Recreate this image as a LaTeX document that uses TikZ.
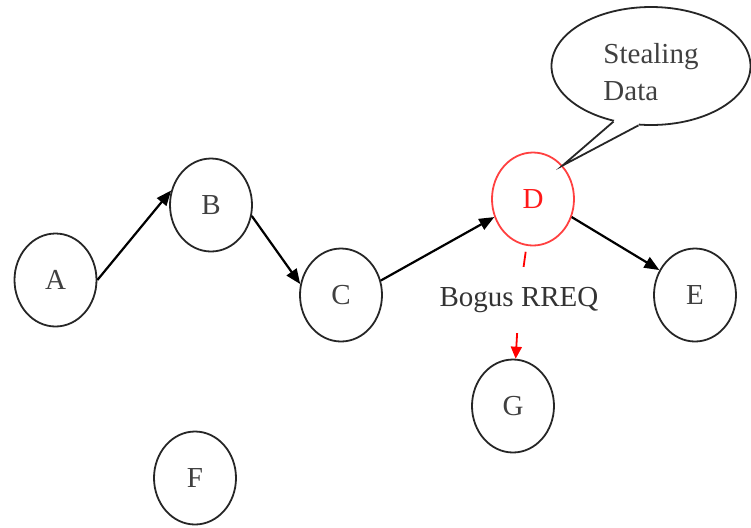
\documentclass[tikz,border=0pt]{standalone}
\usepackage{fontspec}
\setmainfont{Liberation Serif}
\usetikzlibrary{positioning}
\usetikzlibrary{calc}
\usetikzlibrary{shapes.geometric}
\usetikzlibrary{arrows.meta}

\begin{document}
\begin{tikzpicture}[
host/.style={ellipse, draw=black!85, line width=0.9pt, text=black!75, minimum width=41pt, minimum height=46.5pt, inner sep=0pt, font=\fontsize{14.5}{17}\selectfont},
rogue/.style={host, draw=red!75, text=red!90},
link/.style={->, line width=1.1pt, >={Triangle[length=7.5pt,width=6pt]}},
on grid]

\useasboundingbox (0,0) rectangle (375.5pt,-263.5pt);

\node[host] (A) at (27.75pt,-140pt) {A};
\node[host] (B) [above right=37.5pt and 77.75pt of A] {B};
\node[host] (C) [below right=45pt and 65pt of B] {C};
\node[rogue] (D) [above right=48pt and 96pt of C] {D};
\node[host] (E) [below right=48pt and 81pt of D] {E};
\node[host] (G) [below left=103.5pt and 10pt of D] {G};
\node[host] (F) [below left=136.5pt and 8pt of B] {F};

\node[text=black!80, inner xsep=2pt, inner ysep=10pt, font=\fontsize{14.5}{17}\selectfont] (rreq) [below left=50.5pt and 7pt of D] {Bogus RREQ};

% speech bubble
\node[ellipse, draw=black!85, line width=0.9pt, minimum width=99.5pt, minimum height=59pt] (steal) [above right=66.5pt and 59pt of D] {};
\fill[white] (steal.236) -- ($(steal.236)!5pt!(steal.center)$) -- ($(steal.258)!5pt!(steal.center)$) -- (steal.258) -- (D.north east) -- cycle;
\draw[black!85, line width=0.9pt, line join=miter] (steal.236) -- (D.north east) -- (steal.258);
\node[text=black!75, align=left, font=\fontsize{14.5}{18.5}\selectfont] (steal_txt) [below=3pt of steal] {Stealing\\Data};

\draw[link] (A.east) -- (B.160);
\draw[link] (B.-15) -- (C.165);
\draw[link] (C.20) -- (D.205);
\draw[link] (D.-25) -- (E.145);

\draw[red, line width=0.9pt, shorten <=3pt] (D) -- (rreq);
\draw[red, line width=0.9pt, -{Triangle[length=6pt,width=5.5pt]}] (rreq) -- (G);

\end{tikzpicture}
\end{document}
